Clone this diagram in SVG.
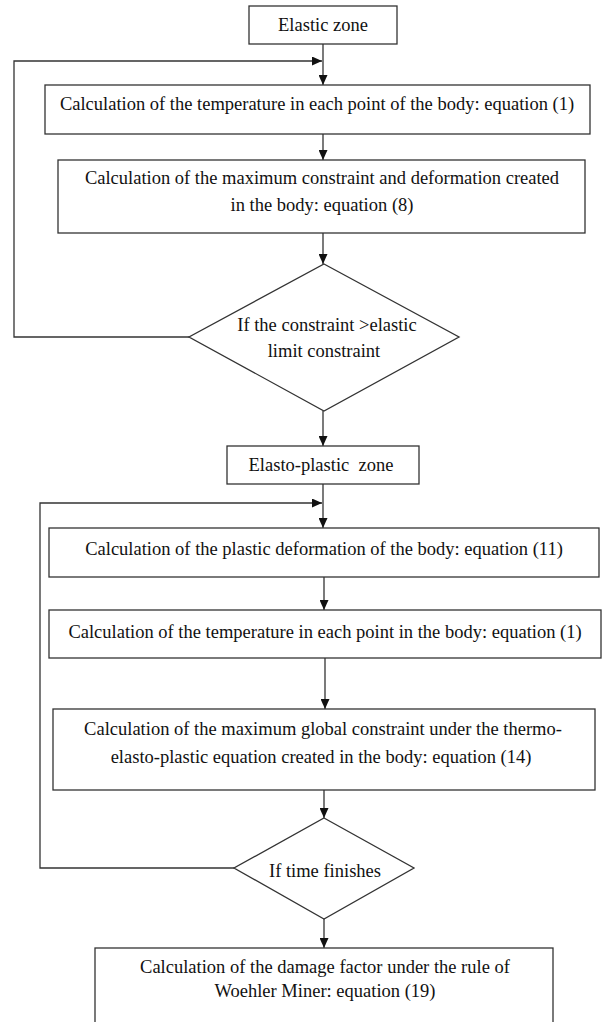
<svg xmlns="http://www.w3.org/2000/svg" width="605" height="1022" viewBox="0 0 605 1022">
<style>
.box{fill:#fff;stroke:#333;stroke-width:1.3}
.t{font-family:'Liberation Serif','DejaVu Serif',serif;font-size:18.5px;fill:#111;text-anchor:middle}
.c{fill:none;stroke:#333;stroke-width:1.3}
</style>
<defs>
<marker id="ah" markerUnits="userSpaceOnUse" markerWidth="10" markerHeight="9" refX="10" refY="4.5" orient="auto">
<path d="M0,0 L10,4.5 L0,9 z" fill="#111"/>
</marker>
</defs>
<rect x="0" y="0" width="605" height="1022" fill="#fff"/>
<g id="connectors">
<path class="c" d="M323,44 V85" marker-end="url(#ah)"/>
<path class="c" d="M189,337 H14 V61 H322" marker-end="url(#ah)"/>
<path class="c" d="M323,134 V160" marker-end="url(#ah)"/>
<path class="c" d="M323,233 V264" marker-end="url(#ah)"/>
<path class="c" d="M323,411 V446" marker-end="url(#ah)"/>
<path class="c" d="M323,484 V528" marker-end="url(#ah)"/>
<path class="c" d="M234,868 H40 V503 H322" marker-end="url(#ah)"/>
<path class="c" d="M324,577 V610" marker-end="url(#ah)"/>
<path class="c" d="M325,658 V709" marker-end="url(#ah)"/>
<path class="c" d="M324,790 V818" marker-end="url(#ah)"/>
<path class="c" d="M324,919 V948" marker-end="url(#ah)"/>
</g>
<g id="elastic-zone">
<rect class="box" x="249" y="6" width="148" height="38"/>
<text class="t" font-family="Liberation Serif" x="323" y="31">Elastic zone</text>
</g>
<g id="temperature-1">
<rect class="box" x="45" y="85" width="545" height="49"/>
<text class="t" font-family="Liberation Serif" x="317" y="110">Calculation of the temperature in each point of the body: equation (1)</text>
</g>
<g id="max-constraint">
<rect class="box" x="58" y="160" width="527" height="73"/>
<text class="t" font-family="Liberation Serif" x="322" y="184">Calculation of the maximum constraint and deformation created</text>
<text class="t" font-family="Liberation Serif" x="322" y="211">in the body: equation (8)</text>
</g>
<g id="decision-elastic">
<polygon class="box" points="324,264 459,337 324,411 189,337"/>
<text class="t" font-family="Liberation Serif" x="327" y="331">If the constraint &gt;elastic</text>
<text class="t" font-family="Liberation Serif" x="324" y="357">limit constraint</text>
</g>
<g id="elasto-plastic-zone">
<rect class="box" x="227" y="446" width="192" height="38"/>
<text class="t" font-family="Liberation Serif" x="321" y="471" xml:space="preserve">Elasto-plastic  zone</text>
</g>
<g id="plastic-deformation">
<rect class="box" x="49" y="528" width="550" height="49"/>
<text class="t" font-family="Liberation Serif" x="324" y="555">Calculation of the plastic deformation of the body: equation (11)</text>
</g>
<g id="temperature-2">
<rect class="box" x="49" y="610" width="552" height="48"/>
<text class="t" font-family="Liberation Serif" x="325" y="638">Calculation of the temperature in each point in the body: equation (1)</text>
</g>
<g id="global-constraint">
<rect class="box" x="53" y="709" width="542" height="81"/>
<text class="t" font-family="Liberation Serif" x="323" y="735">Calculation of the maximum global constraint under the thermo-</text>
<text class="t" font-family="Liberation Serif" x="321" y="763">elasto-plastic equation created in the body: equation (14)</text>
</g>
<g id="decision-time">
<polygon class="box" points="324,818 414,868 324,919 234,868"/>
<text class="t" font-family="Liberation Serif" x="325" y="877">If time finishes</text>
</g>
<g id="damage-factor">
<rect class="box" x="95" y="948" width="458" height="90"/>
<text class="t" font-family="Liberation Serif" x="325" y="973">Calculation of the damage factor under the rule of</text>
<text class="t" font-family="Liberation Serif" x="325" y="997">Woehler Miner: equation (19)</text>
</g>
</svg>
